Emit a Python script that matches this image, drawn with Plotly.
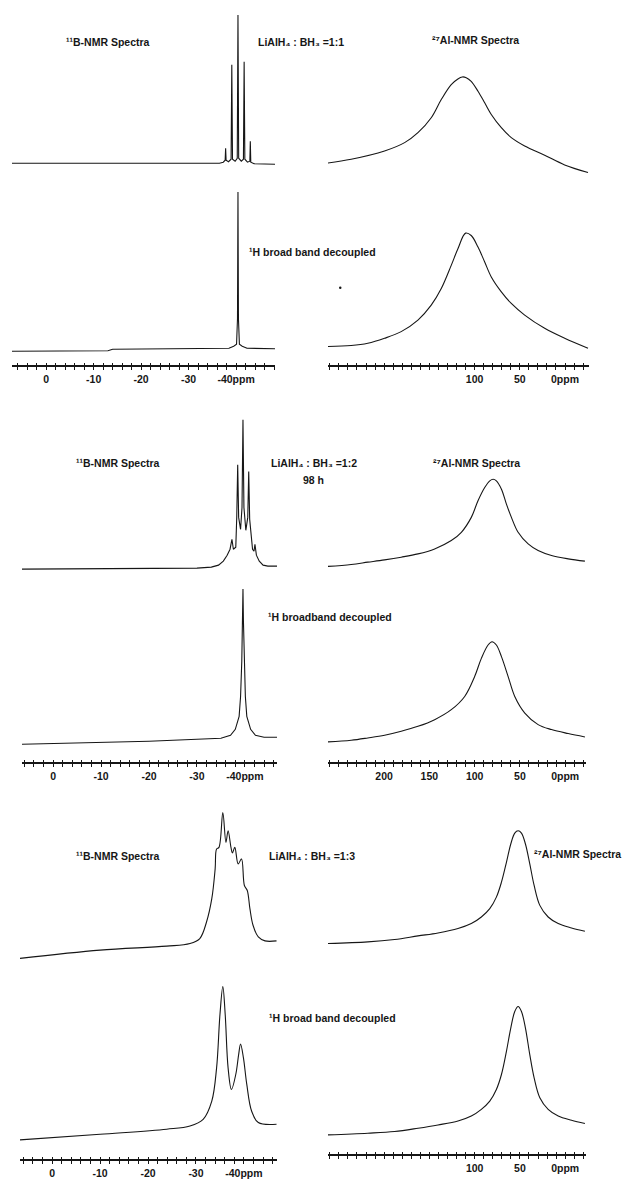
import plotly.graph_objects as go

# page window 636x1179; browser body has an 8px margin, so the figure is 8px smaller
PAGE_W, PAGE_H, OFF = 636, 1179, 8
W, H = PAGE_W - OFF, PAGE_H - OFF

# ---------------- data (ppm, intensity a.u.) ----------------
# Panel a : LiAlH4 : BH3 = 1:1
a_B_ppm = [7.2, -36.5, -37.3, -37.7, -37.8, -37.9, -38.4, -38.95, -39.1, -39.25, -39.8, -40.25, -40.4, -40.55,
           -41.1, -41.55, -41.7, -41.85, -42.4, -42.9, -43.0, -43.1, -43.8, -48.2]
a_B_int = [11, 11, 12, 14, 26, 14, 12.5, 15, 110, 15, 13, 16, 160, 16,
           13, 15, 113, 15, 12, 13, 33, 12, 10.5, 10]
a_Bdec_ppm = [7.2, -13.0, -14.0, -36.0, -38.5, -39.5, -40.1, -40.3, -40.4, -40.5, -40.7, -41.3, -42.3, -48.2]
a_Bdec_int = [7, 7.5, 9, 9.5, 10, 12, 14, 40, 167, 40, 14, 12, 10, 9.5]
a_Al_ppm = [264.0, 236.4, 199.5, 177.3, 162.6, 147.9, 136.8, 125.8, 118.4, 113.6, 109.2, 103.7, 96.2, 88.8,
            81.5, 70.4, 59.4, 44.6, 22.5, 0.4, -25.4]
a_Al_int = [11, 15, 23.3, 31.7, 41.7, 56.7, 75, 90, 95.7, 97.7, 97, 93.3, 83.3, 71.7,
            60, 46.7, 36.7, 28.3, 19, 9.3, 1.7]
a_Aldec_ppm = [264.0, 236.4, 218.0, 199.5, 181.1, 162.6, 147.9, 136.8, 125.8, 118.4, 109.9, 103.7, 96.2, 88.8,
               81.5, 70.4, 59.4, 44.6, 22.5, 0.4, -25.4]
a_Aldec_int = [11.7, 12.7, 15, 20, 26.7, 38.3, 53.3, 70, 93.3, 110, 125.7, 123.3, 111.7, 96.7,
               81.7, 66.7, 55, 43.3, 30, 20, 10]

# Panel b : LiAlH4 : BH3 = 1:2, 98 h
b_B_ppm = [6.5, -30, -33, -34.5, -35.5, -36.3, -36.9, -37.3, -37.6, -38.1, -38.3, -38.5, -38.7, -39.1, -39.4,
           -39.6, -39.8, -40.2, -40.6, -40.8, -41.0, -41.6, -41.9, -42.1, -42.4, -43.0, -43.8, -44.8, -46.7]
b_B_int = [8, 9, 10, 12, 16, 22, 28, 38, 28, 30, 60, 113, 60, 48, 70,
           158, 70, 47, 60, 106, 58, 28, 26, 33, 22, 16, 12, 11, 11]
b_Bdec_ppm = [6.5, -10, -20, -30, -35, -37, -38, -38.8, -39.1, -39.35, -39.5, -39.6, -39.7, -39.85, -40.1,
              -40.4, -41.2, -42.2, -44, -46.7]
b_Bdec_int = [7, 8.5, 10, 12, 13, 16, 22, 35, 55, 90, 130, 163, 130, 90, 55,
              35, 22, 16, 14, 14]
b_Al_ppm = [262.2, 236.4, 218.0, 199.5, 181.1, 162.6, 144.2, 125.8, 114.7, 103.7, 96.3, 88.9, 83.3, 79.6,
            76.0, 70.4, 64.9, 59.4, 52.0, 40.9, 29.9, 15.1, -3.3, -21.8]
b_Al_int = [10.7, 12.7, 15, 17.3, 20, 23.3, 28.3, 36.7, 45, 60, 76.7, 90, 96.7, 98.3,
            96.7, 88.3, 73.3, 60, 45, 33.3, 26.7, 21.7, 18.3, 16]
b_Aldec_ppm = [262.2, 236.4, 218.0, 199.5, 181.1, 162.6, 144.2, 125.8, 111.0, 100.0, 92.6, 85.2, 80.8, 76.0,
               70.4, 63.0, 55.7, 44.6, 29.9, 15.1, -3.3, -21.8]
b_Aldec_int = [9.3, 11, 13.3, 16, 20, 25, 31.7, 41.7, 55, 75, 93.3, 106.7, 110, 106.7,
               95, 75, 55, 38.3, 26.7, 21.7, 17.7, 14.3]

# Panel c : LiAlH4 : BH3 = 1:3
c_B_ppm = [6.7, -10, -23.9, -28.75, -30.8, -32.2, -33.3, -34.0, -34.3, -34.8, -35.6, -36.25, -36.7, -37.3,
           -37.6, -38.1, -38.8, -39.5, -40.1, -40.7, -41.25, -41.9, -43.0, -44.4, -46.8]
c_B_int = [11.7, 20, 24, 26.7, 31.7, 48.3, 71.7, 101.7, 121.7, 123.3, 158.3, 128.3, 140, 123.3,
           117.7, 123.3, 106.7, 111.7, 85, 80, 61.7, 45, 33.3, 29.3, 29.3]
c_Bdec_ppm = [6.7, -10, -23.9, -28.75, -31.5, -33.3, -34.3, -35.0, -35.6, -36.1, -36.7, -37.4, -38.3, -38.9,
              -39.3, -39.9, -40.6, -41.6, -43.0, -46.8]
c_Bdec_int = [9.3, 15, 20, 23.3, 30, 48.3, 81.7, 135, 163.3, 135, 81.7, 60, 75, 95,
              105.7, 91.7, 65, 38.3, 26.7, 25]
c_Al_ppm = [262.2, 218.0, 188.5, 162.6, 140.5, 118.4, 103.7, 92.6, 83.3, 76.0, 70.4, 64.9, 60.1, 55.7,
            52.0, 48.3, 43.9, 39.1, 34.3, 28.0, 18.8, 7.7, -7.0, -21.8]
c_Al_int = [26.7, 28.3, 30.7, 34.3, 37.3, 41.7, 46.7, 53.3, 61.7, 73.3, 88.3, 108.3, 126.7, 137.7,
            140, 137.7, 126.7, 106.7, 85, 65, 53.3, 46.7, 42.3, 39]
c_Aldec_ppm = [262.2, 218.0, 188.5, 162.6, 140.5, 118.4, 103.7, 92.6, 83.3, 76.0, 70.4, 64.9, 60.1, 55.7,
               52.0, 48.3, 43.9, 39.1, 34.3, 28.0, 18.8, 7.7, -7.0, -21.8]
c_Aldec_int = [14.3, 16, 17.7, 21, 24.3, 28.3, 33.3, 40, 48.3, 60, 75, 98.3, 121.7, 138.3,
               143.3, 138.3, 121.7, 95, 71.7, 51.7, 40, 33.3, 29, 25.7]

# tick labels
b_ticks = [0, -10, -20, -30, -40]
b_ticktext = ["0", "-10", "-20", "-30", "-40ppm"]
al_ticks_ac = [100, 50, 0]
al_ticktext_ac = ["100", "50", "0ppm"]
al_ticks_b = [200, 150, 100, 50, 0]
al_ticktext_b = ["200", "150", "100", "50", "0ppm"]

# ---------------- geometry helpers (reference-page pixels) ----------------
INK = "#161616"
FONT = "Liberation Sans"
CLEAR = "rgba(0,0,0,0)"


def px_x(p):
    return (p - OFF) / W


def px_y(p):
    return 1 - (p - OFF) / H


fig = go.Figure()
layout = dict(width=W, height=H, margin=dict(l=0, r=0, t=0, b=0),
              paper_bgcolor="white", plot_bgcolor=CLEAR, showlegend=False)

# x axes: (name, px domain, ppm range, axis-line y px, labelled ticks, texts, small-tick step)
xaxes = [
    ("a_l", (12, 275), (7.2, -48.2), 368, b_ticks, b_ticktext, 2),
    ("a_r", (328, 589), (262, -26.5), 368, al_ticks_ac, al_ticktext_ac, 10),
    ("b_l", (22, 277), (6.5, -46.7), 767, b_ticks, b_ticktext, 2),
    ("b_r", (328, 586), (262, -23), 767, al_ticks_b, al_ticktext_b, 10),
    ("c_l", (20, 277), (6.7, -46.9), 1166, b_ticks, b_ticktext, 2),
    ("c_r", (328, 586), (262, -23), 1161, al_ticks_ac, al_ticktext_ac, 10),
]

# spectra: (x-axis name, band top px, band bottom px, ppm, intensity, smooth)
spectra = [
    ("a_l", 8, 175, a_B_ppm, a_B_int, False),
    ("a_l", 190, 360, a_Bdec_ppm, a_Bdec_int, False),
    ("a_r", 8, 175, a_Al_ppm, a_Al_int, True),
    ("a_r", 190, 360, a_Aldec_ppm, a_Aldec_int, True),
    ("b_l", 410, 580, b_B_ppm, b_B_int, False),
    ("b_l", 585, 755, b_Bdec_ppm, b_Bdec_int, False),
    ("b_r", 410, 580, b_Al_ppm, b_Al_int, True),
    ("b_r", 585, 755, b_Aldec_ppm, b_Aldec_int, True),
    ("c_l", 805, 975, c_B_ppm, c_B_int, True),
    ("c_l", 985, 1155, c_Bdec_ppm, c_Bdec_int, True),
    ("c_r", 805, 975, c_Al_ppm, c_Al_int, True),
    ("c_r", 985, 1155, c_Aldec_ppm, c_Aldec_int, True),
]


def ref(kind, k):
    return kind if k == 1 else f"{kind}{k}"


main_x, twin_x = {}, {}
n = 0
for name, (d0, d1), rng, ay, tv, tt, step in xaxes:
    lo, hi = min(rng), max(rng)
    allv = []
    v = int(hi // step) * step
    while v >= lo:
        allv.append(v)
        v -= step
    common = dict(domain=[px_x(d0), px_x(d1)], range=list(rng), anchor="free",
                  position=px_y(ay), showgrid=False, zeroline=False, fixedrange=True)
    n += 1
    main_x[name] = n
    layout[f"xaxis{n}"] = dict(common, showline=True, linecolor=INK, linewidth=1.7,
                               tickmode="array", tickvals=tv, ticktext=tt,
                               ticks="outside", ticklen=3, tickwidth=1.1, tickcolor=INK,
                               tickfont=dict(family=FONT, size=10.5, color=INK, weight="bold"),
                               minor=dict(tickmode="array", tickvals=allv, ticks="outside",
                                          ticklen=3, tickwidth=1.1, tickcolor=INK))
    n += 1
    twin_x[name] = n
    layout[f"xaxis{n}"] = dict(common, showline=False, tickmode="array", tickvals=allv,
                               ticks="inside", ticklen=3, tickwidth=1.1, tickcolor=INK,
                               showticklabels=False)

ny = 0
first_y = {}
for name, top, bot, xs, ys, smooth in spectra:
    ny += 1
    xr = ref("x", main_x[name])
    yr = ref("y", ny)
    first_y.setdefault(name, yr)
    layout[f"yaxis{ny}"] = dict(domain=[px_y(bot), px_y(top)], range=[0, bot - top], visible=False,
                                anchor=xr, fixedrange=True)
    line = dict(color=INK, width=1.1, shape="spline" if smooth else "linear")
    if smooth:
        line["smoothing"] = 1.0
    fig.add_trace(go.Scatter(x=xs, y=ys, mode="lines", xaxis=xr, yaxis=yr,
                             line=line, hoverinfo="skip"))

# empty traces so that the tick-crossing twin axes are drawn
for name, k in twin_x.items():
    fig.add_trace(go.Scatter(x=[None], y=[None], mode="lines", xaxis=ref("x", k),
                             yaxis=first_y[name], hoverinfo="skip"))

# ---------------- texts ----------------
labels = [
    ("¹¹B-NMR Spectra", 65, 42),
    ("LiAlH₄ : BH₃ =1:1", 257, 42),
    ("²⁷Al-NMR Spectra", 431, 40),
    ("¹H broad band decoupled", 248, 253),
    ("a", 630, 380),
    ("¹¹B-NMR Spectra", 75, 465),
    ("LiAlH₄ : BH₃ =1:2", 270, 465),
    ("98 h", 302, 482),
    ("²⁷Al-NMR Spectra", 432, 465),
    ("¹H broadband decoupled", 267, 620),
    ("b", 630, 779),
    ("¹¹B-NMR Spectra", 75, 860),
    ("LiAlH₄ : BH₃ =1:3", 268, 860),
    ("²⁷Al-NMR Spectra", 533, 858),
    ("¹H broad band decoupled", 268, 1023),
    ("c", 630, 1172),
]
anns = []
for txt, x, y in labels:
    anns.append(dict(text=txt, x=px_x(x), y=px_y(y), xref="paper", yref="paper",
                     xanchor="left", yanchor="middle", showarrow=False, borderpad=0,
                     font=dict(family=FONT, size=10.5, color=INK, weight="bold")))
layout["annotations"] = anns
layout["shapes"] = [dict(type="circle", xref="paper", yref="paper",
                         x0=px_x(339), x1=px_x(341.5), y0=px_y(290.5), y1=px_y(288),
                         fillcolor=INK, line=dict(width=0))]

fig.update_layout(**layout)
fig.write_html("out.html")
